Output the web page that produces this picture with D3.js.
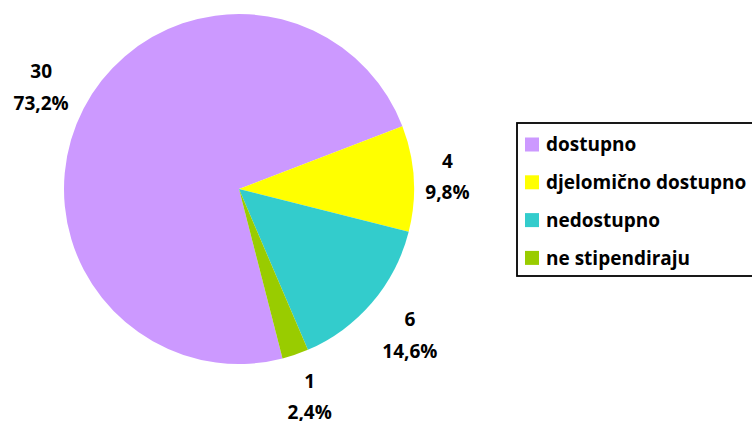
<!DOCTYPE html>
<html lang="en">
<head>
    <meta charset="UTF-8">
    <title>Pie</title>
    <script src="https://d3js.org/d3.v7.min.js"></script>
    <style>
        body { margin: 0; background: #fff; }
        svg { display: block; }
        text { font-family: "Open Sans", Lato, sans-serif; font-weight: bold; fill: #000; }
    </style>
</head>
<body>
    <svg width="752" height="421"></svg>

    <script>
        // data
        const categories = ['dostupno', 'djelomično dostupno', 'nedostupno', 'ne stipendiraju'];
        const counts = [30, 4, 6, 1];
        const percentLabels = ['73,2%', '9,8%', '14,6%', '2,4%'];
        const colors = ['#cc99ff', '#ffff00', '#33cccc', '#99cc00'];

        const width = 752;
        const height = 421;
        const cx = 239, cy = 189, radius = 175;

        const svg = d3.select('svg');

        const data = categories.map((c, i) => ({ name: c, value: counts[i], pct: percentLabels[i], color: colors[i] }));

        const startDeg = 165.6;
        const pie = d3.pie()
            .sort(null)
            .value(d => d.value)
            .startAngle(startDeg * Math.PI / 180)
            .endAngle((startDeg + 360) * Math.PI / 180);

        const arc = d3.arc().innerRadius(0).outerRadius(radius);
        const arcs = pie(data);

        const g = svg.append('g').attr('transform', `translate(${cx},${cy})`);

        g.selectAll('path')
            .data(arcs)
            .join('path')
            .attr('d', arc)
            .attr('fill', d => d.data.color);

        // labels outside, box edge placed at fixed distance
        const labelDist = 185;
        const lineGap = 31.5;
        const fs = 19;
        const lbl = g.selectAll('g.lbl')
            .data(arcs)
            .join('g')
            .attr('class', 'lbl');

        lbl.append('text')
            .attr('class', 'l1')
            .attr('text-anchor', 'middle')
            .style('font-size', fs + 'px')
            .text(d => d.data.value);
        lbl.append('text')
            .attr('class', 'l2')
            .attr('text-anchor', 'middle')
            .attr('y', lineGap)
            .style('font-size', fs + 'px')
            .text(d => d.data.pct);

        lbl.attr('transform', function(d) {
            const a = (d.startAngle + d.endAngle) / 2;
            const bb = this.getBBox();
            const hw = bb.width / 2, hh = bb.height / 2;
            const r = labelDist + hw * Math.abs(Math.sin(a)) + hh * Math.abs(Math.cos(a));
            const x = r * Math.sin(a) - (bb.x + hw);
            const y = -r * Math.cos(a) - (bb.y + hh);
            return `translate(${x},${y})`;
        });

        // legend
        const legend = svg.append('g').attr('transform', 'translate(517,123)');
        legend.append('rect')
            .attr('width', 250)
            .attr('height', 153)
            .attr('fill', '#fff')
            .attr('stroke', '#000')
            .attr('stroke-width', 1.8);

        const item = legend.selectAll('g.item')
            .data(data)
            .join('g')
            .attr('class', 'item')
            .attr('transform', (d, i) => `translate(8,${21.5 + i * 37.8})`);

        item.append('rect')
            .attr('y', -7)
            .attr('width', 14)
            .attr('height', 14)
            .attr('fill', d => d.color);

        item.append('text')
            .attr('x', 21)
            .attr('dy', '0.35em')
            .style('font-size', '19px')
            .text(d => d.name);
    </script>
</body>
</html>
